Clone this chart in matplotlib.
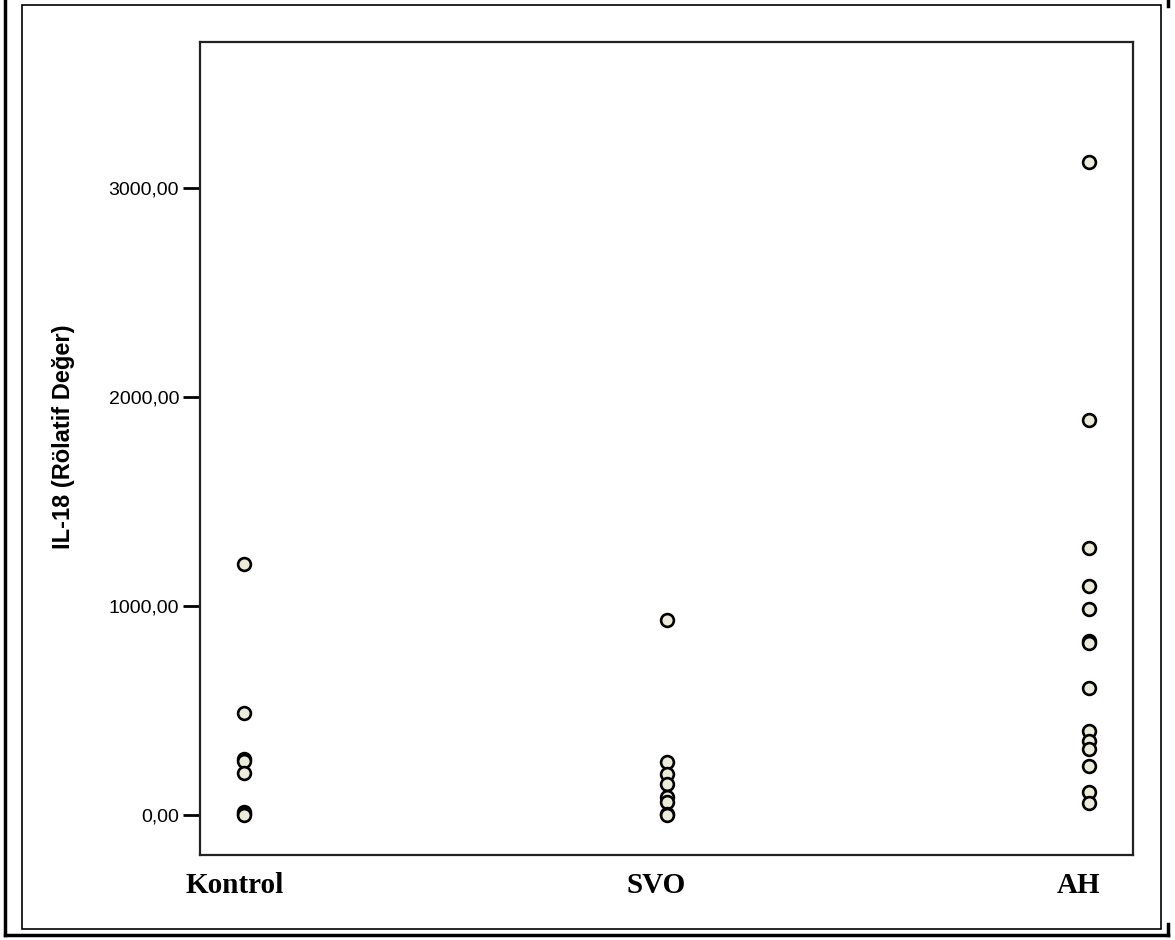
import matplotlib
matplotlib.use("Agg")
from matplotlib import pyplot as plt
from matplotlib import transforms
from matplotlib.lines import Line2D
from matplotlib.patches import Rectangle

groups = ['Kontrol', 'SVO', 'AH']

kontrol = [1201, 488, 270, 260, 201, 15, 8, 3]
svo = [933, 254, 196, 148, 86, 62, 8, 3]
ah = [3124, 1890, 1278, 1096, 986, 835, 825, 608, 402, 354, 316, 234, 110, 57]

yticks = [0, 1000, 2000, 3000]

fig = plt.figure(figsize=(11.75, 9.4), dpi=100)
ax = fig.add_axes([0.1702, 0.0904, 0.7941, 0.8649])

for i, vals in enumerate([kontrol, svo, ah]):
    ax.plot([i] * len(vals), vals, 'o', ms=9.2, mfc='#ECEBDA', mec='black',
            mew=1.9, ls='none', clip_on=False)

ax.set_xlim(-0.105, 2.105)
ax.set_ylim(-190, 3700)

ax.set_yticks(yticks)
ax.set_yticklabels([f"{v:.2f}".replace('.', ',') for v in yticks],
                   fontsize=14, family='Liberation Sans')
ax.tick_params(axis='y', length=12, width=2, direction='out', pad=3,
               color='black')

ax.set_xticks(range(len(groups)))
ax.set_xticklabels(groups, fontsize=21, family='Liberation Serif',
                   fontweight='bold')
ax.tick_params(axis='x', length=0, pad=12)
shift = transforms.ScaledTranslation(-10 / 100, 0, fig.dpi_scale_trans)
for lbl in ax.get_xticklabels():
    lbl.set_transform(lbl.get_transform() + shift)

ax.set_ylabel('IL-18 (Rölatif Değer)', fontsize=17, family='Liberation Sans',
              fontweight='bold')
ax.yaxis.set_label_coords(-0.134, 0.515)

for s in ax.spines.values():
    s.set_linewidth(1.6)
    s.set_color('#222222')

# page frame
W, H = 1175, 940
fig.add_artist(Rectangle((22 / W, 1 - 929 / H), (1161 - 22) / W, (929 - 5) / H,
                         transform=fig.transFigure, fill=False,
                         lw=1.2, ec='black'))
fig.add_artist(Line2D([5 / W, 5 / W], [1 - 935 / H, 1], transform=fig.transFigure,
                      lw=2.5, color='black'))
fig.add_artist(Line2D([5 / W, 1168 / W], [1 - 935 / H] * 2,
                      transform=fig.transFigure, lw=2.5, color='black'))
fig.add_artist(Line2D([1168 / W] * 2, [1 - 935 / H, 1 - 924 / H],
                      transform=fig.transFigure, lw=2.5, color='black'))
fig.add_artist(Line2D([1168 / W] * 2, [1, 1 - 6 / H],
                      transform=fig.transFigure, lw=2.5, color='black'))

plt.savefig('out.png', dpi=100)
